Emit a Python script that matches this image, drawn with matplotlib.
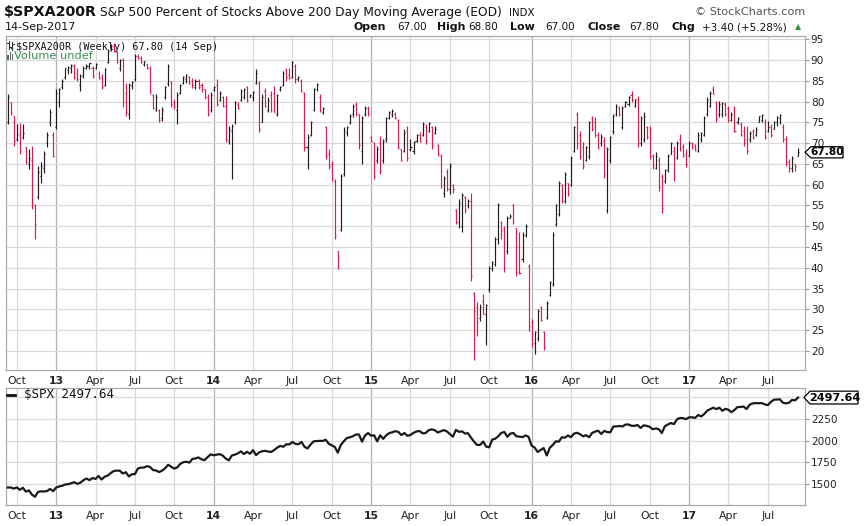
import matplotlib
matplotlib.use('Agg')
import matplotlib.pyplot as plt
import matplotlib.dates as mdates
import matplotlib.transforms as mtransforms
from matplotlib.patches import Polygon, Rectangle
from matplotlib.lines import Line2D
import numpy as np
import pandas as pd

plt.rcParams['font.family'] = ['DejaVu Sans']
plt.rcParams['text.parse_math'] = False

W, H = 865, 526
end_date = '2017-09-14'

open_ = [75.0, 80.0, 76.5, 71.0, 72.5, 71.5, 69.0, 65.0, 66.0, 55.0,
         57.0, 62.0, 64.0, 70.0, 75.0, 72.0, 74.0, 80.0, 83.5, 86.0,
         87.5, 88.0, 88.5, 87.0, 84.0, 86.5, 88.0, 88.5, 88.0, 88.0,
         87.0, 86.0, 84.0, 89.5, 92.5, 93.5, 92.0, 88.0, 90.0, 82.0,
         77.0, 84.0, 85.5, 91.0, 90.5, 89.0, 89.0, 88.0, 81.5, 78.0,
         78.0, 76.0, 81.0, 84.5, 85.0, 80.0, 78.0, 82.0, 84.5, 85.5,
         86.0, 85.0, 83.5, 85.0, 84.0, 83.0, 81.0, 78.0,
         82.8, 84.0, 80.5, 81.0, 79.0, 70.5, 73.0, 75.0, 79.5, 80.5,
         81.0, 83.5, 81.2, 81.0, 84.5, 84.5, 75.0, 82.5, 78.0, 81.5,
         82.0, 77.0, 83.0, 84.0, 87.5, 86.5, 86.0, 88.5, 85.5, 85.0,
         82.0, 69.0, 72.0, 78.0, 83.0, 81.0, 77.5, 74.0, 67.5, 65.0,
         61.0, 44.0, 49.0, 62.5, 72.5, 75.0, 77.0, 79.5, 77.0, 68.0,
         77.0, 78.5, 71.5, 70.0, 66.0, 70.0, 66.0, 71.0, 76.0, 77.0,
         77.0, 75.5, 68.5, 68.0, 73.0,
         68.5, 68.0, 70.5, 72.0, 72.0, 74.0, 73.0, 74.0, 72.5, 69.5,
         67.0, 58.0, 63.0, 59.0, 60.0, 54.0, 51.0, 50.0, 57.0, 55.0,
         56.0, 34.0, 30.5, 28.0, 32.0, 29.0, 35.0, 40.0, 41.0, 47.0,
         51.0, 49.5, 44.0, 52.1, 55.0, 49.5, 45.0, 42.0, 48.0, 40.5,
         27.0, 22.0, 23.0, 30.5, 24.5, 28.0, 33.5, 36.0, 50.5, 53.0,
         60.0, 56.0, 60.5, 60.0, 68.0, 77.0, 72.0, 69.0, 66.0, 67.0,
         76.0, 75.0, 72.0, 70.0, 70.5, 54.0,
         66.0, 73.0, 77.0, 78.5, 74.0, 79.0, 79.5, 81.5, 79.0, 80.0,
         70.0, 71.0, 74.0, 73.5, 67.0, 64.0, 66.0, 62.0, 61.0, 63.5,
         67.5, 68.0, 66.5, 71.0, 69.0, 67.5, 67.0, 70.0, 69.5, 68.0,
         71.0, 72.0, 77.0, 79.0, 83.0, 80.0, 77.0, 77.0, 79.5, 78.5,
         75.5, 78.0, 75.0, 74.5, 73.0, 71.0, 71.0, 73.0, 72.0, 75.2,
         75.5, 75.0, 73.0, 74.0, 73.5, 75.0, 76.0, 74.0, 71.0, 65.5,
         64.0, 65.0, 67.0]

high = [81.8, 80.0, 76.6, 74.6, 74.8, 74.6, 69.0, 68.6, 69.4, 55.3,
        64.6, 65.4, 68.2, 72.6, 78.2, 72.6, 83.0, 83.4, 85.4, 88.2,
        88.6, 89.0, 89.0, 88.2, 86.6, 88.6, 89.0, 89.4, 88.6, 89.4,
        87.4, 86.6, 88.2, 92.6, 93.8, 94.0, 92.2, 90.2, 90.6, 84.6,
        84.6, 85.0, 91.4, 91.4, 91.0, 89.8, 89.0, 88.6, 81.8, 81.8,
        78.2, 78.6, 83.8, 89.0, 85.0, 80.6, 82.2, 84.2, 86.2, 86.6,
        86.2, 85.8, 85.4, 85.4, 84.6, 83.0, 81.8, 82.2,
        83.8, 85.4, 82.6, 81.4, 81.4, 74.2, 74.6, 80.2, 79.8, 83.0,
        83.4, 83.8, 81.8, 82.6, 87.8, 85.0, 81.8, 83.4, 81.0, 82.6,
        83.8, 81.8, 83.8, 87.4, 88.2, 88.2, 89.8, 89.0, 86.2, 85.4,
        82.2, 72.2, 75.4, 83.4, 84.6, 81.8, 78.6, 74.2, 68.6, 65.8,
        61.3, 44.1, 62.5, 73.8, 74.2, 77.0, 79.4, 79.8, 77.0, 76.6,
        79.0, 79.0, 71.8, 70.2, 69.4, 71.8, 71.0, 76.2, 77.8, 78.2,
        77.4, 75.8, 68.6, 73.4, 74.2,
        71.0, 70.6, 72.2, 72.6, 75.0, 74.6, 75.0, 74.2, 74.2, 69.8,
        67.4, 62.1, 63.8, 65.3, 60.1, 54.1, 56.5, 58.1, 57.3, 56.5,
        58.1, 34.1, 31.7, 31.3, 33.7, 31.3, 40.5, 41.7, 47.3, 55.7,
        51.3, 50.1, 52.5, 52.9, 55.3, 49.7, 48.5, 48.5, 50.5, 40.9,
        27.7, 24.9, 30.1, 30.9, 24.9, 32.1, 36.9, 48.5, 55.3, 60.9,
        60.1, 63.0, 60.5, 67.0, 74.2, 77.4, 73.0, 70.2, 69.4, 75.4,
        76.6, 76.2, 72.6, 72.2, 71.4, 69.0,
        71.8, 77.0, 79.4, 79.0, 79.0, 80.2, 81.4, 82.6, 80.6, 81.4,
        76.6, 77.4, 74.2, 74.2, 67.4, 67.8, 66.6, 62.5, 63.8, 67.4,
        70.2, 69.4, 70.6, 72.2, 69.8, 68.6, 70.6, 70.2, 69.8, 72.6,
        72.6, 76.6, 81.0, 82.6, 83.8, 80.2, 80.2, 79.8, 79.8, 79.0,
        77.4, 79.0, 76.2, 75.0, 74.2, 74.2, 73.0, 73.4, 73.8, 76.6,
        77.0, 75.8, 75.4, 74.6, 75.4, 76.6, 77.0, 74.6, 71.8, 66.2,
        67.0, 65.0, 68.8]

low = [74.6, 76.8, 69.4, 70.6, 67.4, 71.0, 65.0, 63.9, 54.1, 46.9,
       56.5, 60.5, 62.9, 69.2, 74.2, 66.6, 73.4, 78.6, 83.0, 85.5,
       86.6, 87.0, 85.4, 85.0, 82.6, 85.8, 87.8, 87.8, 85.8, 87.8,
       85.4, 83.0, 83.8, 89.4, 92.2, 92.0, 89.4, 87.4, 78.6, 76.6,
       75.8, 83.0, 85.0, 90.2, 89.4, 88.6, 87.8, 81.8, 78.2, 77.8,
       75.0, 75.4, 80.6, 83.8, 78.6, 78.2, 74.6, 81.8, 84.2, 84.6,
       84.2, 83.4, 83.0, 83.0, 82.2, 80.6, 76.6, 77.4,
       82.6, 79.0, 80.2, 78.6, 70.2, 69.8, 61.3, 74.6, 78.2, 80.2,
       80.6, 79.8, 81.0, 80.2, 84.2, 72.6, 75.0, 78.6, 77.4, 77.4,
       77.4, 76.6, 82.6, 83.8, 85.0, 85.4, 85.8, 84.6, 85.0, 82.2,
       68.2, 63.8, 71.8, 77.8, 82.6, 77.4, 77.0, 66.1, 63.8, 61.0,
       46.9, 39.7, 48.9, 62.1, 71.8, 74.6, 76.2, 76.6, 68.6, 65.0,
       76.6, 76.6, 70.2, 61.3, 65.3, 62.5, 65.3, 70.2, 75.8, 76.2,
       75.8, 68.6, 65.8, 67.8, 65.8,
       68.2, 67.4, 70.2, 70.2, 71.8, 69.8, 72.6, 68.6, 72.2, 67.0,
       59.3, 57.0, 58.5, 57.7, 58.1, 50.5, 49.7, 48.5, 53.3, 54.5,
       36.9, 17.7, 23.7, 27.3, 28.9, 21.3, 34.1, 39.3, 40.5, 45.7,
       46.9, 38.9, 43.3, 52.1, 50.5, 38.1, 38.5, 41.3, 47.3, 24.9,
       20.9, 19.3, 22.5, 27.3, 20.1, 27.7, 33.3, 35.7, 50.1, 52.5,
       55.7, 55.7, 57.3, 59.7, 67.8, 68.6, 66.2, 63.8, 65.8, 66.2,
       73.0, 71.4, 68.6, 69.4, 61.7, 53.3,
       65.3, 72.2, 76.6, 76.6, 73.4, 78.6, 79.0, 79.8, 78.6, 69.0,
       69.4, 70.2, 71.0, 66.2, 63.8, 63.8, 58.5, 53.3, 60.5, 63.0,
       67.4, 61.0, 66.2, 68.2, 66.6, 64.2, 67.0, 68.6, 68.2, 67.8,
       70.2, 71.8, 76.6, 78.6, 81.8, 75.0, 76.2, 76.2, 76.6, 75.0,
       75.4, 72.6, 74.6, 71.8, 69.4, 67.4, 70.2, 71.0, 71.8, 75.0,
       75.2, 71.0, 72.6, 71.4, 73.4, 74.2, 74.6, 70.2, 64.6, 63.0,
       63.0, 63.4, 67.0]

close = [81.0, 77.5, 70.5, 72.0, 68.0, 72.5, 65.5, 66.5, 55.5, 50.5,
         63.0, 64.5, 67.5, 72.0, 77.5, 67.0, 82.0, 83.0, 85.0, 88.0,
         88.4, 88.8, 86.0, 85.5, 86.2, 88.2, 88.6, 89.2, 86.2, 89.0,
         85.8, 83.5, 87.8, 92.2, 93.5, 92.5, 89.6, 90.0, 80.0, 77.5,
         84.0, 84.8, 91.0, 90.5, 89.5, 89.7, 88.0, 82.5, 78.5, 81.0,
         75.5, 78.0, 83.5, 88.5, 79.5, 79.0, 81.5, 84.0, 86.0, 86.3,
         84.5, 84.0, 85.0, 83.5, 83.0, 81.0, 77.0, 81.5,
         83.5, 79.5, 82.0, 79.0, 71.0, 73.5, 74.2, 79.8, 78.5, 82.5,
         83.0, 80.5, 81.5, 82.2, 87.0, 73.5, 81.0, 79.0, 80.5, 78.0,
         77.6, 81.5, 83.5, 87.0, 86.0, 85.8, 89.5, 85.5, 86.0, 82.5,
         69.0, 71.5, 75.0, 83.0, 84.3, 78.0, 78.4, 67.0, 64.5, 61.5,
         48.0, 42.5, 62.0, 73.0, 73.8, 76.5, 79.0, 77.0, 69.5, 76.0,
         78.5, 77.0, 70.5, 62.0, 68.5, 63.5, 70.5, 76.0, 77.5, 77.8,
         76.0, 69.0, 66.0, 72.5, 66.5,
         69.0, 70.2, 72.0, 70.5, 74.5, 70.5, 74.8, 69.5, 73.5, 67.5,
         60.0, 61.5, 59.0, 64.5, 59.0, 51.0, 55.5, 57.5, 54.0, 56.0,
         38.0, 29.5, 27.0, 30.5, 29.0, 31.0, 40.0, 41.5, 47.0, 55.0,
         49.0, 40.0, 52.0, 52.5, 51.0, 39.0, 38.8, 48.0, 50.0, 26.0,
         24.0, 24.5, 29.5, 27.5, 21.0, 31.5, 36.5, 48.0, 55.0, 60.5,
         56.0, 62.5, 58.0, 66.5, 74.0, 70.0, 67.0, 64.5, 69.0, 75.0,
         73.5, 72.0, 69.0, 71.5, 62.5, 68.5,
         71.5, 76.5, 79.0, 77.0, 78.5, 80.0, 81.0, 80.5, 80.6, 70.0,
         76.0, 76.5, 71.5, 67.0, 64.5, 67.0, 59.5, 54.5, 63.5, 67.0,
         70.0, 62.0, 70.0, 68.5, 67.0, 65.0, 70.0, 69.0, 68.5, 72.0,
         72.4, 76.0, 80.5, 82.0, 81.9, 76.0, 79.5, 79.6, 77.0, 75.5,
         77.0, 73.0, 76.0, 72.0, 70.0, 68.0, 72.5, 71.5, 73.5, 76.5,
         76.8, 71.5, 74.0, 72.0, 75.0, 76.2, 76.8, 71.0, 65.5, 64.0,
         66.5, 64.4, 67.8]

spx = [1460, 1460, 1447, 1461, 1433, 1457, 1412, 1427, 1377, 1353,
       1409, 1416, 1414, 1419, 1443, 1418, 1460, 1472, 1480, 1495,
       1498, 1509, 1521, 1502, 1515, 1544, 1563, 1545, 1569, 1559,
       1593, 1552, 1585, 1597, 1626, 1650, 1655, 1654, 1622, 1636,
       1588, 1613, 1615, 1680, 1689, 1690, 1706, 1697, 1661, 1656,
       1638, 1655, 1683, 1722, 1699, 1678, 1692, 1733, 1752, 1757,
       1747, 1790, 1795, 1807, 1785, 1775, 1810, 1842, 1832, 1838,
       1845, 1828, 1794, 1773, 1829, 1839, 1854, 1877, 1846, 1872,
       1849, 1891, 1833, 1864, 1878, 1883, 1875, 1870, 1892, 1920,
       1940, 1930, 1959, 1957, 1985, 1964, 1958, 1987, 1930, 1910,
       1955, 1992, 1996, 1998, 1997, 2011, 1965, 1946, 1928, 1862,
       1951, 1994, 2031, 2039, 2052, 2072, 2071, 1989, 2061, 2088,
       2058, 2062, 1992, 2063, 2021, 2062, 2088, 2097, 2110, 2101,
       2065, 2089, 2056, 2066, 2091, 2106, 2112, 2085, 2088, 2121,
       2131, 2121, 2095, 2108, 2122, 2108, 2077, 2046, 2124, 2102,
       2108, 2083, 2086, 2035, 1988, 1951, 1952, 1990, 1932, 1923,
       2013, 2023, 2052, 2090, 2100, 2045, 2082, 2089, 2050, 2047,
       2041, 2061, 2044, 1943, 1921, 1869, 1893, 1915, 1829, 1918,
       1951, 1993, 1989, 2040, 2035, 2060, 2041, 2082, 2091, 2075,
       2050, 2064, 2040, 2090, 2105, 2115, 2077, 2113, 2099, 2097,
       2163, 2165, 2170, 2164, 2186, 2187, 2172, 2171, 2181, 2147,
       2177, 2171, 2160, 2132, 2141, 2133, 2088, 2167, 2187, 2204,
       2191, 2246, 2262, 2260, 2249, 2269, 2270, 2263, 2296, 2280,
       2307, 2347, 2364, 2381, 2364, 2381, 2345, 2368, 2357, 2329,
       2355, 2388, 2389, 2394, 2365, 2415, 2430, 2434, 2432, 2434,
       2419, 2410, 2447, 2473, 2475, 2477, 2438, 2430, 2438, 2471,
       2465, 2497.64]

top_ticks = [20, 25, 30, 35, 40, 45, 50, 55, 60, 65, 70, 75, 80, 85, 90, 95]
bot_ticks = [1500, 1750, 2000, 2250]
bot_grid = [1500, 1750, 2000, 2250, 2500]

RED = '#e0184c'
BLK = '#1e1e1e'
GRID = '#d9d9d9'
YEARGRID = '#b0b0b0'
SPINE = '#a8a8a8'
TXT = '#111111'

dates = pd.date_range(end=end_date, periods=len(close), freq='7D')
x = mdates.date2num(dates)
n = len(close)
colors = [BLK if (i == 0 or close[i] >= close[i - 1]) else RED for i in range(n)]

fig = plt.figure(figsize=(W / 100, H / 100), dpi=100)
fig.patch.set_facecolor('white')

def fx(px):
    return px / W

def fy(py):
    return 1 - py / H

L_PX, R_PX = 6, 805
ax1 = fig.add_axes([fx(L_PX), fy(370), (R_PX - L_PX) / W, (370 - 36) / H])
ax2 = fig.add_axes([fx(L_PX), fy(505), (R_PX - L_PX) / W, (505 - 388) / H])

xmin = x[0] - 4
xmax = x[-1] + 16

# quarterly ticks at first bar of each quarter
qstarts = pd.date_range('2012-10-01', '2017-07-01', freq='QS')
tick_pos, tick_lab, is_year = [], [], []
for q in qstarts:
    idx = np.searchsorted(dates.values, np.datetime64(q))
    if idx < n:
        tick_pos.append(x[idx])
        if q.month == 1:
            tick_lab.append(q.strftime('%y'))
            is_year.append(True)
        else:
            tick_lab.append(q.strftime('%b'))
            is_year.append(False)

for ax in (ax1, ax2):
    ax.set_xlim(xmin, xmax)
    for p, yr in zip(tick_pos, is_year):
        ax.axvline(p, color=YEARGRID if yr else GRID, lw=0.9, zorder=0)
    ax.set_xticks(tick_pos)
    ax.set_xticklabels(tick_lab)
    for lab, yr in zip(ax.get_xticklabels(), is_year):
        if yr:
            lab.set_fontweight('bold')
    ax.tick_params(axis='x', length=0, labelsize=7.8, pad=4, labelcolor='#222222')
    ax.yaxis.tick_right()
    ax.tick_params(axis='y', direction='out', length=3, color='#999999',
                   labelsize=7.6, pad=1.2, labelcolor='#222222')
    for s in ax.spines.values():
        s.set_color(SPINE)
        s.set_linewidth(0.9)

# top panel
ax1.set_ylim(15.4, 95.8)
ax1.set_yticks(top_ticks)
for v in top_ticks:
    ax1.axhline(v, color=GRID, lw=0.9, zorder=0)
ax1.vlines(x, low, high, colors=colors, lw=0.85, zorder=3)
ax1.hlines(open_, x - 2.4, x, colors=colors, lw=0.85, zorder=3)
ax1.hlines(close, x, x + 2.4, colors=colors, lw=0.85, zorder=3)

# bottom panel
ax2.set_ylim(1258, 2608)
ax2.set_yticks(bot_ticks)
for v in bot_grid:
    ax2.axhline(v, color=GRID, lw=0.9, zorder=0)
ax2.plot(x, spx, color='#1a1a1a', lw=1.6, zorder=3, solid_joinstyle='round')

# value boxes
def value_box(ax, yval, label, hh_px, tip, bl, br, fs):
    y0, y1 = ax.get_ylim()
    ax_h_px = ax.get_position().height * H
    hh = hh_px * (y1 - y0) / ax_h_px
    ax_fx = lambda px: (px - L_PX) / (R_PX - L_PX)
    tr = mtransforms.blended_transform_factory(ax.transAxes, ax.transData)
    pts = [(ax_fx(tip), yval), (ax_fx(bl), yval + hh), (ax_fx(br), yval + hh),
           (ax_fx(br), yval - hh), (ax_fx(bl), yval - hh)]
    poly = Polygon(pts, closed=True, facecolor='white', edgecolor='black',
                   lw=0.9, transform=tr, clip_on=False, zorder=10)
    ax.add_patch(poly)
    ax.text(ax_fx((bl + br) / 2 + 0.5), yval, label, transform=tr, ha='center',
            va='center', fontsize=fs, fontweight='bold', zorder=11, clip_on=False)

value_box(ax1, close[-1], f'{close[-1]:.2f}', 5.6, 805, 811, 843, 7.6)
value_box(ax2, spx[-1], f'{spx[-1]:.2f}', 6.4, 804, 810, 858, 8.0)

# header texts
def ftext(px, py, s, **kw):
    kw.setdefault('va', 'center')
    return fig.text(fx(px), fy(py), s, **kw)

ftext(4, 12, '$SPXA200R', fontsize=10.3, fontweight='bold', color=TXT)
ftext(100, 12.5, 'S&P 500 Percent of Stocks Above 200 Day Moving Average (EOD)',
      fontsize=8.8, color=TXT)
ftext(509, 12.5, 'INDX', fontsize=7.4, color=TXT)
ftext(805, 12, '\u00a9 StockCharts.com', ha='right', fontsize=8.1, color='#555555')
ftext(5, 27, '14-Sep-2017', fontsize=8, color=TXT)

row = [(353, 'Open', True), (397, '67.00', False),
       (437, 'High', True), (468, '68.80', False),
       (510, 'Low', True), (545, '67.00', False),
       (587, 'Close', True), (629, '67.80', False),
       (671, 'Chg', True), (702, '+3.40 (+5.28%)', False)]
for px, s, b in row:
    ftext(px, 27, s, fontsize=7.9 if b else 7.5,
          fontweight='bold' if b else 'normal', color=TXT)
ftext(795, 26.5, '\u25b2', fontsize=5.8, color='#2e9a3a')

# legend inside top panel
def fline(xs, ys, **kw):
    fig.add_artist(Line2D([fx(v) for v in xs], [fy(v) for v in ys], **kw))

fline([9, 9], [41, 49], color='#333333', lw=0.8)
fline([7.5, 9], [43, 43], color='#333333', lw=0.8)
fline([9, 10.5], [47, 47], color='#333333', lw=0.8)
fline([12, 12], [42, 50], color='#333333', lw=0.8)
fline([10.5, 12], [48, 48], color='#333333', lw=0.8)
fline([12, 13.5], [44, 44], color='#333333', lw=0.8)
ftext(16, 46.5, '$SPXA200R (Weekly) 67.80 (14 Sep)', fontsize=7.3,
      family='DejaVu Sans Mono', color=TXT, zorder=12)
for bx, bh in [(7.5, 5), (9.5, 8), (11.5, 6)]:
    fig.add_artist(Rectangle((fx(bx), fy(60)), 1.5 / W, bh / H,
                             facecolor='#5a6a60', edgecolor='none'))
ftext(14, 56, 'Volume undef', fontsize=8.2, color='#3c8c5c', zorder=12)

# legend bottom panel
fline([7, 15], [395, 395], color='#111111', lw=2)
ftext(24, 395, '$SPX 2497.64', fontsize=9.0, family='DejaVu Sans Mono',
      color=TXT, zorder=12)

fig.savefig('out.png', dpi=100, facecolor='white')
